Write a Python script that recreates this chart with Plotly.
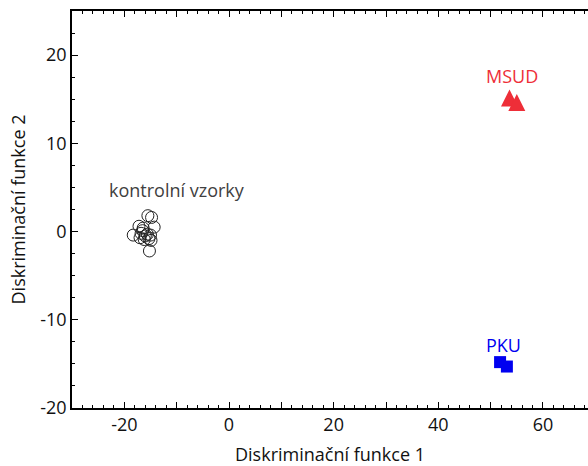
import plotly.graph_objects as go

# Data
ctrl_x = [-15.5, -14.8, -17.2, -14.3, -18.3, -16.8, -16.0, -15.3, -16.5, -15.6, -14.9, -17.0, -16.2, -15.0, -15.2, -16.4]
ctrl_y = [1.8, 1.6, 0.6, 0.5, -0.4, -0.2, -0.5, -0.8, 0.1, -0.3, -1.0, -0.7, -0.9, -0.4, -2.2, 0.4]
msud_x = [53.6, 55.0]
msud_y = [16.1, 15.6]
pku_x = [51.8, 53.1]
pku_y = [-14.8, -15.3]

x_tickvals = [-30, -20, -10, 0, 10, 20, 30, 40, 50, 60]
x_ticktext = ["", "-20", "", "0", "", "20", "", "40", "", "60"]
y_tickvals = [-20, -10, 0, 10, 20]
y_ticktext = ["-20", "-10", "0", "10", "20"]

FONT = "Open Sans"

fig = go.Figure()
fig.add_trace(go.Scatter(x=ctrl_x, y=ctrl_y, mode="markers",
                         marker=dict(symbol="circle-open", size=12, color="#222222",
                                     line=dict(width=1, color="#222222"))))
fig.add_trace(go.Scatter(x=msud_x, y=msud_y, mode="markers",
                         marker=dict(symbol="arrow-up", size=17, color="#EE2E38",
                                     line=dict(width=0))))
fig.add_trace(go.Scatter(x=pku_x, y=pku_y, mode="markers",
                         marker=dict(symbol="square", size=12, color="#0000F0",
                                     line=dict(width=0))))

fig.add_annotation(x=-9.9, y=4.7, text="kontrolní vzorky", showarrow=False,
                   font=dict(family=FONT, size=18, color="#404040"))
fig.add_annotation(x=54.0, y=17.6, text="MSUD", showarrow=False,
                   font=dict(family=FONT, size=18, color="#EE2E38"))
fig.add_annotation(x=52.4, y=-12.9, text="PKU", showarrow=False,
                   font=dict(family=FONT, size=18, color="#0000F0"))

fig.update_layout(
    width=588, height=466,
    margin=dict(l=72, r=0, t=11, b=58),
    paper_bgcolor="white", plot_bgcolor="white",
    showlegend=False,
    font=dict(family=FONT, size=18, color="#111111"),
    xaxis=dict(range=[-30, 68.6], tickvals=x_tickvals, ticktext=x_ticktext,
               ticks="inside", ticklen=6, tickwidth=1, tickcolor="black",
               showline=True, linecolor="black", linewidth=1.5, mirror="ticks",
               showgrid=False, zeroline=False, automargin=False,
               minor=dict(dtick=2, ticks="inside", ticklen=3, tickcolor="black", showgrid=False),
               title=dict(text="Diskriminační funkce 1", font=dict(size=18), standoff=22)),
    yaxis=dict(range=[-20, 25], tickvals=y_tickvals, ticktext=y_ticktext,
               ticks="inside", ticklen=6, tickwidth=1, tickcolor="black",
               showline=True, linecolor="black", linewidth=1.5,
               showgrid=False, zeroline=False, automargin=False,
               minor=dict(dtick=2.5, ticks="inside", ticklen=3, tickcolor="black", showgrid=False),
               title=dict(text="Diskriminační funkce 2", font=dict(size=18), standoff=10)),
)

fig.write_html("out.html")
